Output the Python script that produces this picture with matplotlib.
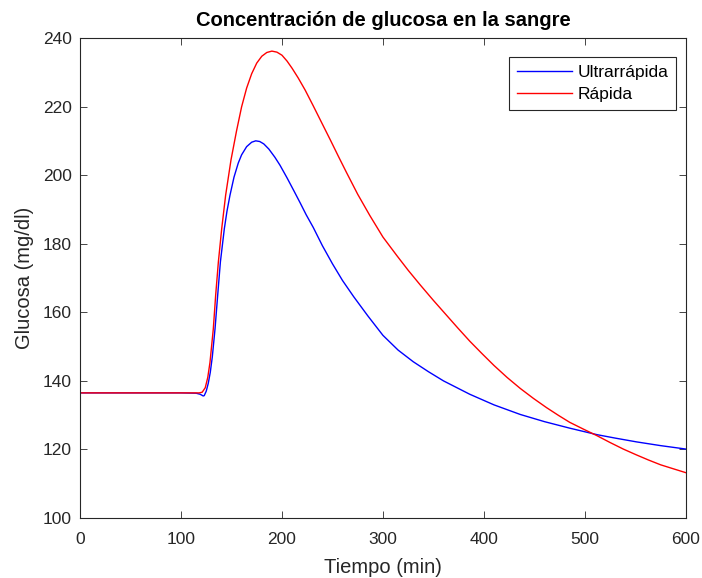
import matplotlib
matplotlib.use('Agg')
import matplotlib.pyplot as plt

plt.rcParams['font.family'] = ['Liberation Sans', 'DejaVu Sans']

# tiempo (min) y glucosa (mg/dl)
t_ultra = [0, 100, 115, 119, 122, 123, 125, 127, 129, 131, 133.7, 136.3, 139,
           142.9, 145.5, 148.5, 152.5, 156.7, 160, 165, 170, 174, 178, 182,
           187, 193, 198, 205, 212, 218, 224, 231, 240, 250, 260, 271, 285,
           300, 315, 330, 345, 360, 386, 410, 436, 460, 485, 512, 530, 551,
           575, 600]
g_ultra = [136.5, 136.5, 136.4, 136.1, 135.6, 135.7, 137.0, 139.3, 142.5,
           147.0, 155.2, 164.9, 174.7, 184.4, 189.5, 194.2, 199.5, 203.6,
           206.0, 208.4, 209.7, 210.1, 209.9, 209.2, 207.7, 205.3, 203.0,
           199.3, 195.4, 192.0, 188.5, 184.8, 179.5, 174.2, 169.3, 164.6,
           159.0, 153.3, 149.0, 145.6, 142.7, 140.0, 136.1, 133.0, 130.2,
           128.1, 126.2, 124.3, 123.3, 122.2, 121.1, 120.1]

t_rapida = [0, 100, 118, 121, 124, 126.5, 128.7, 132, 134.3, 137, 140.3,
            144.2, 149.5, 155, 160, 165, 170, 175, 180, 185, 190, 195, 200,
            205, 210, 216, 223, 231, 240, 248, 256, 264, 275, 287, 300, 314,
            325, 337, 350, 362, 374, 386, 398, 410, 423, 436, 449, 462, 474,
            485, 498, 512, 525, 538, 551, 563, 575, 588, 600]
g_rapida = [136.5, 136.5, 136.5, 136.7, 138.0, 141.0, 145.4, 155.2, 164.9,
            174.7, 184.4, 194.2, 204.5, 213.0, 220.0, 225.5, 229.7, 232.8,
            234.8, 235.9, 236.3, 236.0, 235.1, 233.4, 231.3, 228.5, 224.9,
            220.3, 215.0, 210.3, 205.5, 200.8, 194.5, 188.3, 182.0, 176.5,
            172.3, 168.0, 163.5, 159.5, 155.5, 151.6, 148.0, 144.5, 141.0,
            137.8, 134.9, 132.2, 129.9, 127.9, 126.0, 124.0, 122.0, 120.1,
            118.4, 116.9, 115.5, 114.3, 113.2]

fig = plt.figure(figsize=(7.02, 5.78), dpi=100)
ax = fig.add_axes([0.114, 0.104, 0.863, 0.8295])

ax.plot(t_ultra, g_ultra, color='#0000ff', linewidth=1.0, label='Ultrarrápida')
ax.plot(t_rapida, g_rapida, color='#ff0000', linewidth=1.0, label='Rápida')

ax.set_xlim(0, 600)
ax.set_ylim(100, 240)
ax.set_xticks(range(0, 601, 100))
ax.set_yticks(range(100, 241, 20))
ax.tick_params(direction='in', top=True, right=True, labelsize=12.5,
               colors='#262626', length=5, width=0.6)
ax.tick_params(axis='x', pad=10)
ax.tick_params(axis='y', pad=6)
for s in ax.spines.values():
    s.set_color('#262626')
    s.set_linewidth(0.8)

ax.set_title('Concentración de glucosa en la sangre', fontsize=14.5,
             fontweight='bold', color='black', pad=9)
ax.set_xlabel('Tiempo (min)', fontsize=14.5, color='#262626', labelpad=8)
ax.set_ylabel('Glucosa (mg/dl)', fontsize=14.5, color='#262626', labelpad=6)

leg = ax.legend(loc='upper right', bbox_to_anchor=(0.984, 0.962),
                fontsize=12.5, fancybox=False, framealpha=1,
                edgecolor='#262626', handlelength=3.2, handletextpad=0.3,
                borderpad=0.45, labelspacing=0.4, borderaxespad=0)
leg.get_frame().set_linewidth(0.8)

fig.savefig('out.png', dpi=100)
